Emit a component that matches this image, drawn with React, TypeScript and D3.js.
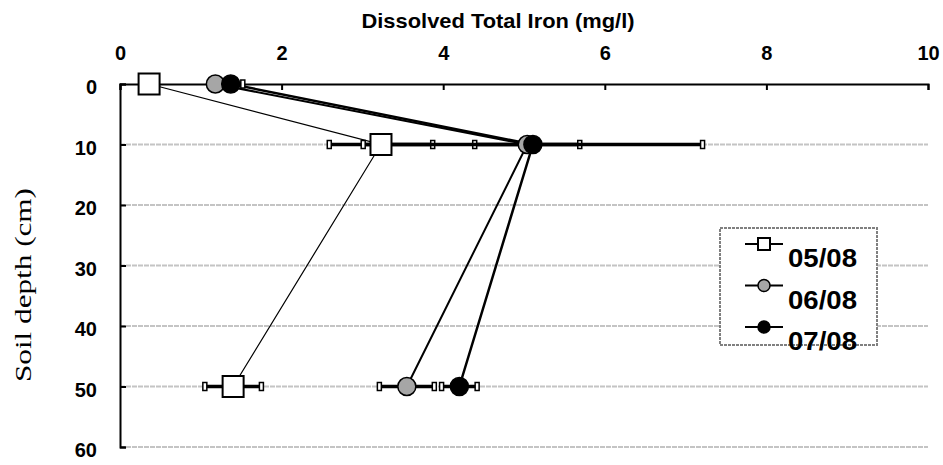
import * as d3 from "d3";
import { useEffect, useRef } from "react";

// depths sampled (cm)
const depths = [0, 10, 50];
const seriesNames = ["05/08", "06/08", "07/08"];
// dissolved total iron (mg/l), one array per sampling date
const iron0508 = [0.36, 3.23, 1.4];
const iron0608 = [1.18, 5.04, 3.55];
const iron0708 = [1.37, 5.11, 4.2];
// error bar half widths
const err0508 = [0, 0.64, 0.35];
const err0608 = [0, 0.65, 0.34];
const err0708 = [0.15, 2.1, 0.22];
const xTicks = [0, 2, 4, 6, 8, 10];
const yTicks = [0, 10, 20, 30, 40, 50, 60];

const W = 943;
const H = 465;

export default function App() {
  const ref = useRef<SVGSVGElement>(null);

  useEffect(() => {
    const svg = d3.select(ref.current);
    svg.selectAll("*").remove();

    const left = 120, right = 928, top = 84, bottom = 447;
    const x = d3.scaleLinear().domain([0, 10]).range([left, right]);
    const y = d3.scaleLinear().domain([0, 60]).range([top, bottom]);
    const font = "'Liberation Sans', Arial, sans-serif";

    // --- grid lines ---
    svg.append("g")
      .selectAll("line")
      .data(yTicks.filter(d => d > 0))
      .join("line")
        .attr("x1", left).attr("x2", right)
        .attr("y1", d => y(d)).attr("y2", d => y(d))
        .attr("stroke", "#c4c4c4")
        .attr("stroke-width", 2)
        .attr("stroke-dasharray", "5,1");

    // --- axes ---
    const xAxis = svg.append("g")
      .attr("transform", `translate(0,${top})`)
      .call(d3.axisTop(x).tickValues(xTicks).tickSize(-6).tickPadding(24).tickFormat(d3.format("d")));
    xAxis.select(".domain").attr("stroke", "#000").attr("stroke-width", 2);
    xAxis.selectAll(".tick line").attr("stroke", "#000").attr("stroke-width", 2);
    xAxis.selectAll(".tick text")
      .attr("font-family", font).attr("font-weight", "bold").attr("font-size", 20).attr("fill", "#000");

    const yAxis = svg.append("g")
      .attr("transform", `translate(${left},0)`)
      .call(d3.axisLeft(y).tickValues(yTicks).tickSize(-6).tickPadding(23).tickFormat(d3.format("d")));
    yAxis.select(".domain").attr("stroke", "#000").attr("stroke-width", 2);
    yAxis.selectAll(".tick line").attr("stroke", "#000").attr("stroke-width", 2);
    yAxis.selectAll(".tick text")
      .attr("font-family", font).attr("font-weight", "bold").attr("font-size", 20).attr("fill", "#000")
      .attr("dy", "0.48em");

    // --- titles ---
    svg.append("text")
      .attr("x", 498).attr("y", 28)
      .attr("text-anchor", "middle")
      .attr("font-family", font).attr("font-weight", "bold").attr("font-size", 21)
      .attr("textLength", 273).attr("lengthAdjust", "spacingAndGlyphs")
      .text("Dissolved Total Iron (mg/l)");

    svg.append("text")
      .attr("transform", `translate(31,${285}) rotate(-90)`)
      .attr("text-anchor", "middle")
      .attr("font-family", "'Liberation Serif', 'DejaVu Serif', serif")
      .attr("font-size", 24)
      .attr("textLength", 194).attr("lengthAdjust", "spacingAndGlyphs")
      .text("Soil depth (cm)");

    const series = [
      { name: seriesNames[0], vals: iron0508, err: err0508, fill: "#fff", lw: 1.2, shape: "square" },
      { name: seriesNames[1], vals: iron0608, err: err0608, fill: "#a6a6a6", lw: 2, shape: "circle" },
      { name: seriesNames[2], vals: iron0708, err: err0708, fill: "#000", lw: 2.5, shape: "circle" },
    ];

    // --- lines ---
    const line = d3.line<number>().x(d => x(d)).y((_, i) => y(depths[i]));
    series.forEach(s => {
      svg.append("path")
        .attr("d", line(s.vals))
        .attr("fill", "none")
        .attr("stroke", "#000")
        .attr("stroke-width", s.lw);
    });

    // --- error bars ---
    series.forEach(s => {
      const g = svg.append("g");
      s.vals.forEach((v, i) => {
        if (!s.err[i]) return;
        const lo = x(v - s.err[i]), hi = x(v + s.err[i]), yy = y(depths[i]);
        g.append("line")
          .attr("x1", lo).attr("x2", hi).attr("y1", yy).attr("y2", yy)
          .attr("stroke", "#000").attr("stroke-width", 3.5);
        [lo, hi].forEach(cx => {
          g.append("rect")
            .attr("x", cx - 2).attr("y", yy - 4)
            .attr("width", 4).attr("height", 8)
            .attr("fill", "#fff").attr("stroke", "#000").attr("stroke-width", 1.5);
        });
      });
    });

    // --- markers ---
    const drawMarker = (g: any, shape: string, cx: number, cy: number, size: number, fill: string) => {
      if (shape === "square") {
        g.append("rect")
          .attr("x", cx - size / 2).attr("y", cy - size / 2)
          .attr("width", size).attr("height", size)
          .attr("fill", fill).attr("stroke", "#000").attr("stroke-width", 2);
      } else {
        g.append("circle")
          .attr("cx", cx).attr("cy", cy).attr("r", size / 2)
          .attr("fill", fill).attr("stroke", "#000").attr("stroke-width", 1.5);
      }
    };
    series.forEach(s => {
      const g = svg.append("g");
      s.vals.forEach((v, i) => {
        drawMarker(g, s.shape, x(v), y(depths[i]), s.shape === "square" ? 21 : 18, s.fill);
      });
    });

    // --- legend ---
    const lg = svg.append("g");
    lg.append("rect")
      .attr("x", 720).attr("y", 228).attr("width", 157).attr("height", 117)
      .attr("fill", "#fff").attr("stroke", "#808080").attr("stroke-width", 2)
      .attr("stroke-dasharray", "3,1");
    series.forEach((s, i) => {
      const cy = 244 + i * 41.5;
      lg.append("line")
        .attr("x1", 745).attr("x2", 783).attr("y1", cy).attr("y2", cy)
        .attr("stroke", "#000").attr("stroke-width", 2);
      drawMarker(lg, s.shape, 764, cy, 12, s.fill);
      lg.append("text")
        .attr("x", 788).attr("y", cy + 23)
        .attr("font-family", font).attr("font-weight", "bold").attr("font-size", 26)
        .attr("textLength", 69).attr("lengthAdjust", "spacingAndGlyphs")
        .text(s.name);
    });
  }, []);

  return (
    <svg
      ref={ref}
      width={W}
      height={H}
      style={{ position: "absolute", left: 0, top: 0, background: "#fff" }}
    />
  );
}
